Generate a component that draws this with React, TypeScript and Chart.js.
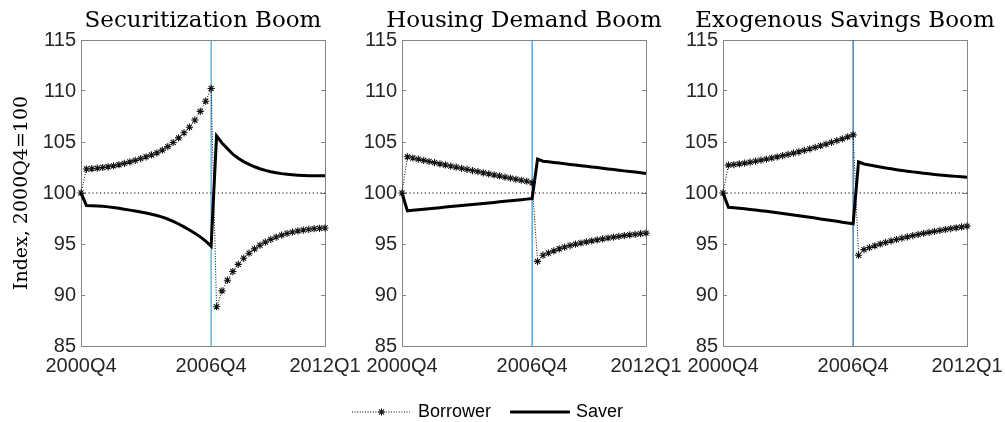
import React, { useEffect, useRef } from 'react';
import { Chart, registerables } from 'chart.js';

Chart.register(...registerables);

// ---------- data ----------
const panelTitles = ['Securitization Boom', 'Housing Demand Boom', 'Exogenous Savings Boom'];
const seriesNames = ['Borrower', 'Saver'];
const yAxisTitle = 'Index, 2000Q4=100';
const xTickIndex = [0, 24, 45];
const xTickLabels = ['2000Q4', '2006Q4', '2012Q1'];
const breakQuarter = 24;
const baseline = 100;
const yMin = 85;
const yMax = 115;
const yStep = 5;

const secBorrower = [
  100,
  102.35, 102.38, 102.43, 102.5, 102.57, 102.66, 102.77, 102.9, 103.05, 103.2, 103.37, 103.55,
  103.73, 103.93, 104.2, 104.55, 104.95, 105.4, 105.9, 106.45, 107.15, 108.0, 109.0, 110.25,
  88.85, 90.4, 91.45, 92.3, 93.0, 93.6, 94.1, 94.52, 94.88, 95.18, 95.45, 95.68, 95.87, 96.03,
  96.17, 96.28, 96.37, 96.44, 96.5, 96.54, 96.57,
];
const secSaver = [
  100,
  98.78, 98.76, 98.73, 98.69, 98.64, 98.58, 98.5, 98.4, 98.32, 98.23, 98.13, 98.03,
  97.92, 97.8, 97.64, 97.45, 97.22, 96.96, 96.68, 96.38, 96.06, 95.7, 95.28, 94.78,
  105.6, 104.9, 104.35, 103.8, 103.4, 103.08, 102.8, 102.57, 102.38, 102.22, 102.08, 101.98,
  101.9, 101.84, 101.79, 101.75, 101.72, 101.7, 101.69, 101.68, 101.68,
];
const houBorrower = [
  100,
  103.55, 103.43, 103.32, 103.2, 103.09, 102.98, 102.86, 102.75, 102.64, 102.53, 102.42, 102.31,
  102.2, 102.09, 101.98, 101.88, 101.77, 101.67, 101.56, 101.46, 101.35, 101.25, 101.15, 101.0,
  93.3, 93.9, 94.12, 94.33, 94.53, 94.7, 94.85, 94.98, 95.1, 95.21, 95.31, 95.41, 95.5, 95.59,
  95.67, 95.75, 95.82, 95.89, 95.95, 96.01, 96.07,
];
const houSaver = [
  100,
  98.25, 98.3, 98.36, 98.41, 98.46, 98.51, 98.56, 98.62, 98.67, 98.72, 98.77, 98.82,
  98.88, 98.93, 98.98, 99.03, 99.08, 99.14, 99.19, 99.24, 99.29, 99.34, 99.4, 99.45,
  103.32, 103.12, 103.06, 102.99, 102.93, 102.87, 102.8, 102.74, 102.68, 102.62, 102.55, 102.49,
  102.43, 102.36, 102.3, 102.24, 102.17, 102.11, 102.05, 101.98, 101.92,
];
const exoBorrower = [
  100,
  102.73, 102.78, 102.85, 102.93, 103.02, 103.12, 103.22, 103.32, 103.43, 103.54, 103.66, 103.78,
  103.91, 104.04, 104.18, 104.32, 104.47, 104.63, 104.79, 104.96, 105.13, 105.31, 105.5, 105.7,
  93.9, 94.45, 94.65, 94.83, 95.0, 95.15, 95.3, 95.44, 95.57, 95.7, 95.82, 95.93, 96.04, 96.14,
  96.24, 96.33, 96.42, 96.51, 96.59, 96.67, 96.75,
];
const exoSaver = [
  100,
  98.6, 98.55, 98.5, 98.45, 98.39, 98.33, 98.27, 98.2, 98.13, 98.06, 97.99, 97.92,
  97.85, 97.77, 97.7, 97.62, 97.54, 97.46, 97.38, 97.3, 97.22, 97.14, 97.06, 96.98,
  103.05, 102.85, 102.75, 102.65, 102.55, 102.46, 102.37, 102.29, 102.21, 102.14, 102.07, 102.0,
  101.94, 101.88, 101.82, 101.77, 101.72, 101.67, 101.63, 101.59, 101.55,
];

// ---------- styling ----------
const AXIS_COLOR = '#858585';
const TICK_COLOR = '#262626';
const SANS = '"Liberation Sans", Arial, Helvetica, sans-serif';
const SERIF = '"DejaVu Serif", serif';
const MARGIN = 81;
const PLOT_W = 244;
const CANVAS_W = MARGIN * 2 + PLOT_W;
const CANVAS_H = 400;

type PanelProps = {
  left: number;
  title: string;
  borrower: number[];
  saver: number[];
  breakColor: string;
  showYTitle: boolean;
};

function Panel({ left, title, borrower, saver, breakColor, showYTitle }: PanelProps) {
  const ref = useRef<HTMLCanvasElement | null>(null);

  useEffect(() => {
    if (!ref.current) return;
    const n = borrower.length;
    const toXY = (arr: number[]) => arr.map((y, i) => ({ x: i, y }));
    const tickFont = { family: SANS, size: 20 };

    const chart = new Chart(ref.current, {
      type: 'line',
      data: {
        datasets: [
          {
            label: seriesNames[1],
            data: toXY(saver),
            borderColor: '#000',
            borderWidth: 3,
            pointRadius: 0,
            fill: false,
            tension: 0,
            order: 1,
            clip: 4,
          },
          {
            label: seriesNames[0],
            data: toXY(borrower),
            borderColor: '#000',
            borderWidth: 1,
            borderDash: [1, 1.6],
            pointStyle: 'star',
            pointRadius: 3.6,
            pointBorderColor: '#111',
            pointBackgroundColor: '#111',
            pointBorderWidth: 1.1,
            fill: false,
            tension: 0,
            order: 2,
            clip: false,
          },
          {
            label: 'ref',
            data: [{ x: 0, y: baseline }, { x: n - 1, y: baseline }],
            borderColor: '#000',
            borderWidth: 1,
            borderDash: [1.2, 2.6],
            pointRadius: 0,
            fill: false,
            order: 3,
          },
          {
            label: 'break',
            data: [{ x: breakQuarter, y: yMin }, { x: breakQuarter, y: yMax }],
            borderColor: breakColor,
            borderWidth: 1.3,
            pointRadius: 0,
            fill: false,
            order: 4,
          },
        ],
      },
      options: {
        animation: false,
        responsive: false,
        maintainAspectRatio: false,
        devicePixelRatio: 1,
        events: [],
        layout: { padding: { left: 0, right: 0, top: 0, bottom: 0 } },
        plugins: {
          legend: { display: false },
          tooltip: { enabled: false },
          title: {
            display: true,
            text: title,
            color: '#000',
            font: { family: SERIF, size: 23, weight: 'normal' },
            padding: { top: 7, bottom: 5.4 },
          },
        },
        scales: {
          x: {
            type: 'linear',
            position: 'bottom',
            min: 0,
            max: n - 1,
            afterBuildTicks: (s: any) => {
              s.ticks = xTickIndex.map((v) => ({ value: v }));
            },
            ticks: {
              autoSkip: false,
              maxRotation: 0,
              minRotation: 0,
              padding: 0,
              color: TICK_COLOR,
              font: tickFont,
              callback: (_v: any, i: number) => xTickLabels[i],
            },
            grid: { display: false },
            border: { display: true, color: AXIS_COLOR, width: 1 },
            afterFit: (s: any) => {
              s.height = 54;
            },
          },
          xTop: {
            type: 'linear',
            position: 'top',
            min: 0,
            max: n - 1,
            ticks: { display: false },
            grid: { display: false },
            border: { display: true, color: AXIS_COLOR, width: 1 },
            afterFit: (s: any) => {
              s.height = 0;
            },
          },
          y: {
            type: 'linear',
            position: 'left',
            min: yMin,
            max: yMax,
            ticks: { stepSize: yStep, padding: 9, color: TICK_COLOR, font: tickFont },
            grid: { display: true, drawOnChartArea: false, drawTicks: true, tickLength: -4, color: AXIS_COLOR },
            border: { display: true, color: AXIS_COLOR, width: 1 },
            title: {
              display: showYTitle,
              text: yAxisTitle,
              color: '#000',
              font: { family: SERIF, size: 19, weight: 'normal' },
              padding: { top: 11, bottom: 0 },
            },
            afterFit: (s: any) => {
              s.width = MARGIN;
            },
          },
          yRight: {
            type: 'linear',
            position: 'right',
            min: yMin,
            max: yMax,
            ticks: { stepSize: yStep, display: false },
            grid: { display: true, drawOnChartArea: false, drawTicks: true, tickLength: -4, color: AXIS_COLOR },
            border: { display: true, color: AXIS_COLOR, width: 1 },
            afterFit: (s: any) => {
              s.width = MARGIN;
            },
          },
        },
      } as any,
    });
    return () => chart.destroy();
  }, []);

  return (
    <canvas
      ref={ref}
      width={CANVAS_W}
      height={CANVAS_H}
      style={{ position: 'absolute', left, top: 0, width: CANVAS_W, height: CANVAS_H }}
    />
  );
}

function Legend() {
  const y = 17;
  const ax = 381.5;
  const r = 3.6;
  const d = r * 0.7071;
  const textStyle: React.CSSProperties = {
    position: 'absolute',
    top: 401,
    fontFamily: SANS,
    fontSize: 18,
    lineHeight: '20px',
    color: '#000',
    whiteSpace: 'nowrap',
  };
  return (
    <>
      <svg
        width={1005}
        height={30}
        style={{ position: 'absolute', left: 0, top: 395 }}
      >
        <line x1={352} y1={y} x2={410} y2={y} stroke="#000" strokeWidth={1} strokeDasharray="1 1.6" />
        <g stroke="#111" strokeWidth={1.1}>
          <line x1={ax - r} y1={y} x2={ax + r} y2={y} />
          <line x1={ax} y1={y - r} x2={ax} y2={y + r} />
          <line x1={ax - d} y1={y - d} x2={ax + d} y2={y + d} />
          <line x1={ax - d} y1={y + d} x2={ax + d} y2={y - d} />
        </g>
        <line x1={510} y1={y} x2={570} y2={y} stroke="#000" strokeWidth={3} />
      </svg>
      <span style={{ ...textStyle, left: 418 }}>{seriesNames[0]}</span>
      <span style={{ ...textStyle, left: 576 }}>{seriesNames[1]}</span>
    </>
  );
}

export default function App() {
  return (
    <div
      style={{
        position: 'fixed',
        left: 0,
        top: 0,
        width: 1005,
        height: 422,
        overflow: 'hidden',
        background: '#fff',
      }}
    >
      <Panel left={0} title={panelTitles[0]} borrower={secBorrower} saver={secSaver} breakColor="#4FA8E0" showYTitle={true} />
      <Panel left={321} title={panelTitles[1]} borrower={houBorrower} saver={houSaver} breakColor="#3B9BDA" showYTitle={false} />
      <Panel left={642} title={panelTitles[2]} borrower={exoBorrower} saver={exoSaver} breakColor="#2372B2" showYTitle={false} />
      <Legend />
    </div>
  );
}
